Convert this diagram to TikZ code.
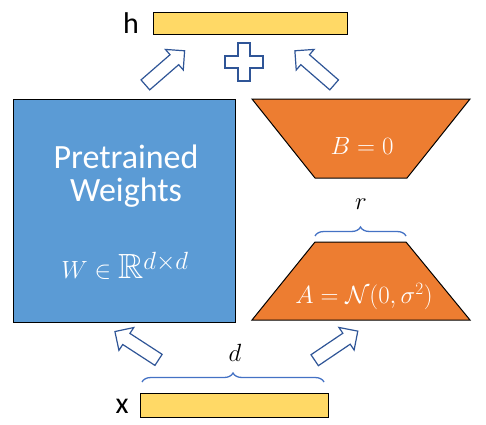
\documentclass[tikz,border=0pt]{standalone}
\usepackage{amssymb}
\usepackage{fontspec}
\setmainfont{Carlito}
\usetikzlibrary{shapes.arrows,decorations.pathreplacing}
\definecolor{wblue}{RGB}{91,155,213}
\definecolor{lorange}{RGB}{237,125,49}
\definecolor{byellow}{RGB}{255,217,102}
\definecolor{ablue}{RGB}{47,85,151}
\definecolor{kblue}{RGB}{68,114,196}
\begin{document}
\begin{tikzpicture}[x=1pt,y=1pt,
	bar/.style={draw=black,fill=byellow,line width=1pt},
	lowrank/.style={draw=black,fill=lorange,line width=1pt},
	hollow/.style={single arrow,draw=ablue,fill=white,line width=1.2pt,inner xsep=0pt,inner ysep=6pt,
		minimum height=52pt,single arrow head extend=7pt},
	kbrace/.style={decorate,decoration={brace,amplitude=9pt},draw=kblue,line width=1.3pt},
	inlbl/.style={text=white,inner sep=0pt}]
		\useasboundingbox (0,0) rectangle (486,424);
		% Vectors
		\node [bar,minimum width=194pt,minimum height=22pt,inner sep=0pt] (h) at (250,400) {};
		\node [font=\fontsize{30}{34}\selectfont,inner sep=0pt] (hlbl) at (131,401) {h};
		\node [bar,minimum width=188pt,minimum height=24pt,inner sep=0pt] (x) at (234,19) {};
		\node [font=\fontsize{30}{34}\selectfont,inner sep=0pt] (xlbl) at (122,18) {x};
		% Pretrained weights
		\node [draw=black,fill=wblue,line width=1pt,minimum width=222pt,minimum height=223pt,inner sep=0pt] (W) at (124,213.5) {};
		\node [inlbl,font=\fontsize{34}{40}\selectfont] (pre) at (126,267) {Pretrained};
		\node [inlbl,font=\fontsize{34}{40}\selectfont] (wts) at (126,231) {Weights};
		\node [inlbl,font=\fontsize{35}{40}\selectfont] (wdim) at (125,158) {$W\in\mathbb{R}^{d\times d}$};
		% Low rank B
		\draw [lowrank] (252,325) -- (470,325) -- (407,246) -- (315,246) -- cycle;
		\node [inlbl,font=\fontsize{27}{32}\selectfont] (B) at (362,278) {$B=0$};
		% Low rank A
		\draw [lowrank] (315,182) -- (406,182) -- (470,104) -- (252,104) -- cycle;
		\node [inlbl,font=\fontsize{27}{32}\selectfont] (A) at (364,127) {$A=\mathcal{N}(0,\sigma^2)$};
		% Braces
		\draw [kbrace] (315,188) coordinate (r0) -- (406,188) coordinate (r1);
		\node [font=\fontsize{25}{30}\selectfont,inner sep=0pt] (r) at (361,220) {$r$};
		\draw [kbrace] (142,42) coordinate (d0) -- (324,42) coordinate (d1);
		\node [font=\fontsize{25}{30}\selectfont,inner sep=0pt] (d) at (235,71) {$d$};
		% Arrows
		\node [hollow,rotate=147] (xW) at (139.5,76.5) {};
		\node [hollow,rotate=34] (xA) at (333.5,76.5) {};
		\node [hollow,rotate=41] (Wh) at (162.5,354) {};
		\node [hollow,rotate=139] (Bh) at (317,354) {};
		% Plus
		\coordinate (plus) at (244,362);
		\draw [ablue,fill=white,line width=1.4pt,shift={(plus)}] (-6,19) -- (6,19) -- (6,6) -- (19,6) -- (19,-6) -- (6,-6) -- (6,-19) -- (-6,-19) -- (-6,-6) -- (-19,-6) -- (-19,6) -- (-6,6) -- cycle;
\end{tikzpicture}
\end{document}
